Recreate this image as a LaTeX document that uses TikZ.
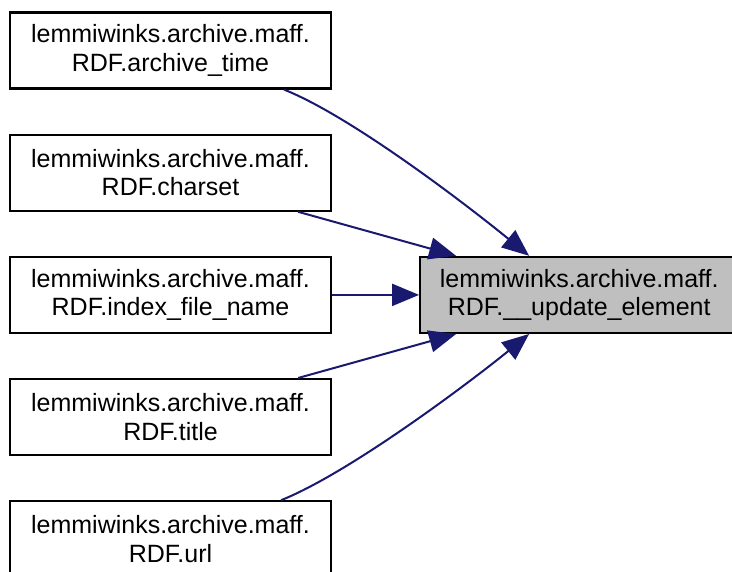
\documentclass[tikz,border=0pt]{standalone}
\usepackage{fontspec}
\setmainfont{Liberation Sans}
\usepackage{xcolor}
\usepackage{tikz}
\usetikzlibrary{arrows.meta,positioning}
\definecolor{nodegray}{HTML}{BFBFBF}
\definecolor{edgeblue}{HTML}{191970}

\begin{document}
\begin{tikzpicture}[x=1pt,y=1pt,node distance=44pt,>={Triangle[length=27pt,width=22pt]}]
\tikzstyle{fnbox}=[draw=black,line width=2.2pt,fill=white,align=center,minimum width=321pt,minimum height=76pt,inner sep=0pt,font=\fontsize{25}{28.5}\selectfont]
\tikzstyle{call}=[->,edgeblue,line width=2pt]
\useasboundingbox (0,0) rectangle (732,-572);
\node[fnbox] (archtime) at (170.5,-50.5) {lemmiwinks.archive.maff.\\RDF.archive\_time};
\node[fnbox,below=of archtime] (charset) {lemmiwinks.archive.maff.\\RDF.charset};
\node[fnbox,below=of charset] (indexname) {lemmiwinks.archive.maff.\\RDF.index\_file\_name};
\node[fnbox,below=of indexname] (title) {lemmiwinks.archive.maff.\\RDF.title};
\node[fnbox,below=of title] (url) {lemmiwinks.archive.maff.\\RDF.url};
\node[fnbox,right=87pt of indexname,fill=nodegray,minimum width=318pt] (update) {lemmiwinks.archive.maff.\\RDF.\_\_update\_element};
\draw[call] ([xshift=-48pt]archtime.south east) .. controls +(70,-28) and +(-55,45) .. ([xshift=110pt]update.north west);
\draw[call] ([xshift=-34pt]charset.south east) -- ([xshift=37pt]update.north west);
\draw[call] (indexname.east) -- (update.west);
\draw[call] ([xshift=-34pt]title.north east) -- ([xshift=37pt]update.south west);
\draw[call] ([xshift=-51pt]url.north east) .. controls +(70,28) and +(-55,-45) .. ([xshift=110pt]update.south west);
\end{tikzpicture}
\end{document}
